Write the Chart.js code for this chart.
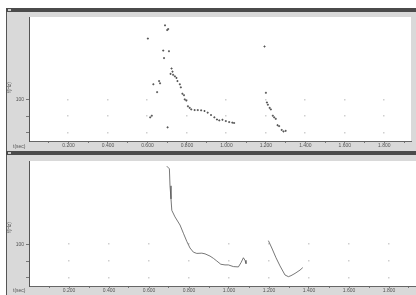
<!DOCTYPE html>
<html>
<head>
<meta charset="utf-8">
<script src="https://cdn.jsdelivr.net/npm/chart.js@4"></script>
<style>
  body { margin: 0; width: 416px; height: 295px; background: #fff; position: relative; overflow: hidden;
         font-family: "Liberation Sans Narrow", "Liberation Sans", sans-serif; }
  #frame { position: absolute; left: 6px; top: 8px; width: 410px; height: 287px; background: #d9d9d9;
           border-left: 1px solid #555; box-sizing: border-box; }
  .bar { position: absolute; left: 6px; width: 410px; height: 4px; background: #4b4b4b; }
  .bar i { position: absolute; left: 2px; top: 1px; width: 3px; height: 2px; background: #ccc; }
  canvas { position: absolute; left: 7px; }
  .lbl { position: absolute; font-size: 5px; color: #555; line-height: 5px; white-space: nowrap; }
  .rot { transform: rotate(-90deg); transform-origin: center; }
</style>
</head>
<body>
<div id="frame"></div>
<div class="bar" style="top:8px"><i></i></div>
<canvas id="top" width="409" height="139" style="top:12px"></canvas>
<div class="bar" style="top:151px"><i></i></div>
<canvas id="bottom" width="409" height="139" style="top:156px"></canvas>
<div class="lbl rot" style="left:4px; top:85px">f(Hz)</div>
<div class="lbl rot" style="left:4px; top:225px">f(Hz)</div>
<div class="lbl" style="left:13px; top:144px">t(sec)</div>
<div class="lbl" style="left:13px; top:288px">t(sec)</div>
<script>
// pitch candidates (top panel)
const candTimes = [0.689, 0.705, 0.700, 0.602, 0.680, 0.709, 0.684, 0.722, 0.727, 0.717, 0.730, 0.739,
  0.747, 0.752, 0.630, 0.659, 0.664, 0.764, 0.769, 0.649, 0.777, 0.785, 0.789, 0.797, 0.805, 0.814,
  0.822, 0.839, 0.855, 0.872, 0.889, 0.905, 0.922, 0.939, 0.952, 0.964, 0.980, 0.997, 1.014, 1.030,
  1.039, 0.622, 0.614, 0.702,
  1.193, 1.200, 1.205, 1.210, 1.219, 1.225, 1.235, 1.242, 1.250, 1.259, 1.267, 1.280, 1.289, 1.300];
const candFreqs = [189.9, 185.4, 184.2, 173.9, 159.4, 158.6, 150.3, 137.7, 133.9, 131.2, 130.1, 128.2,
  126.3, 122.5, 118.6, 122.5, 119.8, 118.6, 114.9, 109.1, 107.2, 105.4, 100.3, 98.9, 92.0, 90.1,
  88.2, 87.4, 87.4, 87.1, 86.3, 84.3, 81.4, 78.6, 76.0, 74.9, 75.7, 74.1, 72.9, 72.2,
  71.8, 80.6, 78.6, 66.5,
  164.3, 108.3, 96.6, 93.9, 90.1, 88.2, 80.6, 78.6, 76.8, 69.1, 68.0, 63.4, 61.5, 62.3];

// pitch contour (bottom panel), two voiced stretches
const contourTimesA = [0.689, 0.702, 0.705, 0.710, 0.714, 0.730, 0.755, 0.772, 0.789, 0.805, 0.822, 0.839,
  0.864, 0.880, 0.905, 0.922, 0.939, 0.959, 0.980, 0.997, 1.022, 1.047, 1.060, 1.072, 1.080, 1.085];
const contourFreqsA = [193.8, 190.6, 170.2, 154.5, 140.8, 132.9, 123.2, 113.3, 103.5, 95.6, 90.6, 89.1,
  89.4, 88.6, 85.9, 83.2, 80.0, 76.1, 75.3, 75.3, 73.3, 72.9, 78.0, 83.9, 80.8, 76.8];
const contourTimesB = [1.197, 1.214, 1.235, 1.255, 1.280, 1.297, 1.310, 1.330, 1.355, 1.369];
const contourFreqsB = [104.4, 95.6, 83.9, 74.1, 63.2, 61.2, 62.4, 65.1, 69.1, 72.1];

// axes
const xTicks = [0.1, 0.2, 0.3, 0.4, 0.5, 0.6, 0.7, 0.8, 0.9, 1.0, 1.1, 1.2, 1.3, 1.4, 1.5, 1.6, 1.7, 1.8, 1.9];
const xLabelled = [0.2, 0.4, 0.6, 0.8, 1.0, 1.2, 1.4, 1.6, 1.8];
const yTicks = [60, 80, 100];
const yLabelled = [100];

const pts = (ts, fs) => ts.map((t, i) => ({ x: t, y: fs[i] }));
const tickFont = { family: '"Liberation Sans Narrow", "Liberation Sans", sans-serif', size: 5 };

const panelLook = {
  id: 'panelLook',
  beforeDraw(chart) {
    const { ctx, chartArea: a } = chart;
    ctx.save();
    ctx.fillStyle = '#fff';
    ctx.fillRect(a.left, a.top, a.right - a.left, a.bottom - a.top);
    ctx.restore();
  },
  beforeDatasetsDraw(chart) {
    // faint dots where the grid lines would cross
    const { ctx, scales: { x, y } } = chart;
    ctx.save();
    ctx.fillStyle = '#cfcfcf';
    xLabelled.forEach(t => yTicks.forEach(f => {
      ctx.fillRect(Math.round(x.getPixelForValue(t)) - 1, Math.round(y.getPixelForValue(f)) - 1, 1.5, 1.5);
    }));
    ctx.restore();
  }
};

function makePanel(id, datasets, padTop, xHeight) {
  return new Chart(document.getElementById(id), {
    type: 'scatter',
    data: { datasets },
    options: {
      responsive: false,
      animation: false,
      events: [],
      layout: { padding: { top: padTop, left: 0, right: 0, bottom: 0 } },
      plugins: { legend: { display: false }, tooltip: { enabled: false } },
      scales: {
        x: {
          type: 'linear', min: 0, max: 1.935,
          afterBuildTicks: s => { s.ticks = xTicks.map(v => ({ value: v })); },
          afterFit: s => { s.height = xHeight; },
          ticks: {
            autoSkip: false, maxRotation: 0, padding: 0, color: '#555', font: tickFont,
            callback: v => xLabelled.some(l => Math.abs(l - v) < 1e-6) ? v.toFixed(3) : ''
          },
          grid: { drawOnChartArea: false, tickLength: 2, color: '#777' },
          border: { color: '#666' }
        },
        y: {
          type: 'linear', min: 50, max: 200,
          afterBuildTicks: s => { s.ticks = yTicks.map(v => ({ value: v })); },
          afterFit: s => { s.width = 22; },
          ticks: {
            padding: 2, color: '#555', font: tickFont,
            callback: v => yLabelled.includes(v) ? String(v) : ''
          },
          grid: { drawOnChartArea: false, tickLength: 3, color: '#777' },
          border: { color: '#555' }
        }
      }
    },
    plugins: [panelLook]
  });
}

makePanel('top', [{
  data: pts(candTimes, candFreqs),
  pointStyle: 'cross', pointRadius: 1, borderColor: '#555', borderWidth: 1
}], 0, 10);

makePanel('bottom', [
  { data: pts(contourTimesA, contourFreqsA), showLine: true, borderColor: '#555', borderWidth: 0.8, pointRadius: 0 },
  { data: pts(contourTimesB, contourFreqsB), showLine: true, borderColor: '#555', borderWidth: 0.8, pointRadius: 0 }
], 1, 9);
</script>
</body>
</html>
